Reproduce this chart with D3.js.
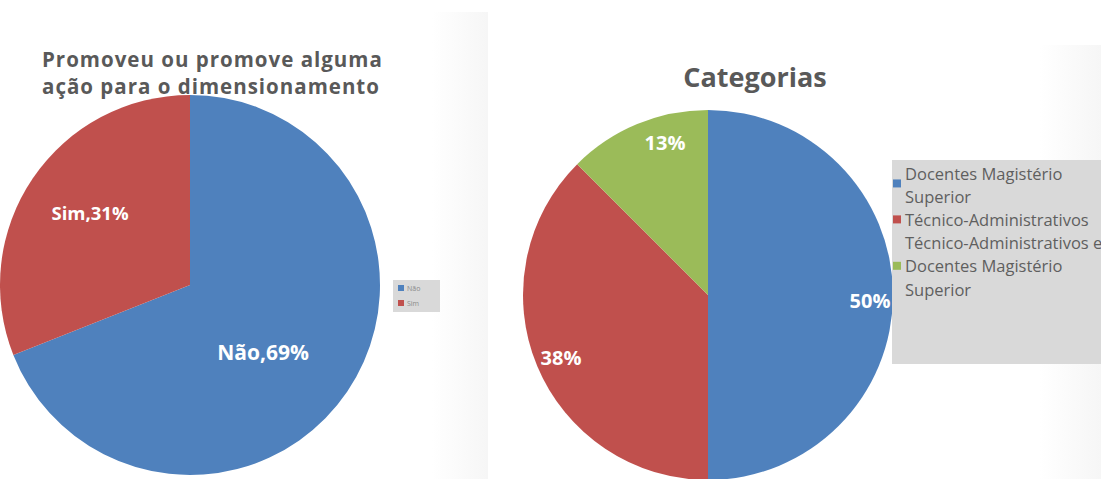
<!DOCTYPE html>
<html>
<head>
<meta charset="utf-8">
<script src="https://cdn.jsdelivr.net/npm/d3@7"></script>
<style>
  html, body { margin: 0; padding: 0; background: #fff; }
  svg { display: block; }
</style>
</head>
<body>
<svg id="chart" width="1101" height="479"></svg>
<script>
// ---- Data ----
const leftTitle = ["Promoveu ou promove alguma", "ação para o dimensionamento"];
const leftCategories = ["Não", "Sim"];
const leftValues = [69, 31];

const rightTitle = "Categorias";
const rightCategories = ["Docentes Magistério Superior", "Técnico-Administrativos", "Técnico-Administrativos e Docentes Magistério Superior"];
const rightValues = [50, 37.5, 12.5];
const rightLegendLines = [["Docentes Magistério", "Superior"], ["Técnico-Administrativos"], ["Técnico-Administrativos e", "Docentes Magistério", "Superior"]];

const colors = ["#4F81BD", "#C0504D", "#9BBB59"];
const font = "'Open Sans', 'DejaVu Sans', sans-serif";
const titleColor = "#595959";

const svg = d3.select("#chart");
const defs = svg.append("defs");

// subtle panel shadows
const g1 = defs.append("linearGradient").attr("id", "shadeL").attr("x1", 0).attr("x2", 1);
g1.append("stop").attr("offset", 0).attr("stop-color", "#fff");
g1.append("stop").attr("offset", 1).attr("stop-color", "#f6f6f6");
const g2 = defs.append("linearGradient").attr("id", "shadeR").attr("x1", 0).attr("x2", 1);
g2.append("stop").attr("offset", 0).attr("stop-color", "#fff");
g2.append("stop").attr("offset", 1).attr("stop-color", "#f6f6f6");
svg.append("rect").attr("x", 432).attr("y", 12).attr("width", 56).attr("height", 467).attr("fill", "url(#shadeL)");
svg.append("rect").attr("x", 1040).attr("y", 45).attr("width", 61).attr("height", 434).attr("fill", "url(#shadeR)");

const pie = d3.pie().sort(null).value(d => d);

// ---- Left chart ----
{
  const cx = 190, cy = 285, r = 190;
  const g = svg.append("g").attr("transform", `translate(${cx},${cy})`);
  const arcs = pie(leftValues);
  const arc = d3.arc().innerRadius(0).outerRadius(r);
  g.selectAll("path").data(arcs).join("path")
    .attr("d", arc).attr("fill", (d, i) => colors[i]);

  const labelPos = [[73, 67], [-100, -73]];
  const labelSize = [21, 18.5];
  g.selectAll("text.lbl").data(arcs).join("text")
    .attr("class", "lbl")
    .attr("x", (d, i) => labelPos[i][0]).attr("y", (d, i) => labelPos[i][1])
    .attr("text-anchor", "middle").attr("dominant-baseline", "central")
    .attr("font-family", font).attr("font-weight", 700).attr("font-size", (d, i) => labelSize[i])
    .attr("fill", "#fff")
    .text((d, i) => `${leftCategories[i]},${leftValues[i]}%`);

  svg.selectAll("text.ltitle").data(leftTitle).join("text")
    .attr("class", "ltitle")
    .attr("x", 42).attr("y", (d, i) => 67 + i * 27)
    .attr("font-family", font).attr("font-weight", 700).attr("font-size", 20.5)
    .attr("letter-spacing", 1)
    .attr("fill", titleColor).text(d => d);

  // legend
  const lg = svg.append("g").attr("transform", "translate(393,280)");
  lg.append("rect").attr("width", 47).attr("height", 32).attr("fill", "#d9d9d9");
  leftCategories.forEach((c, i) => {
    lg.append("rect").attr("x", 5).attr("y", 5 + i * 15).attr("width", 6).attr("height", 6).attr("fill", colors[i]);
    lg.append("text").attr("x", 14).attr("y", 8 + i * 15).attr("dominant-baseline", "central")
      .attr("font-family", font).attr("font-size", 7).attr("fill", "#8a8a8a").text(c);
  });
}

// ---- Right chart ----
{
  const cx = 708, cy = 295, r = 185;
  const g = svg.append("g").attr("transform", `translate(${cx},${cy})`);
  const arcs = pie(rightValues);
  const arc = d3.arc().innerRadius(0).outerRadius(r);
  g.selectAll("path").data(arcs).join("path")
    .attr("d", arc).attr("fill", (d, i) => colors[i]);

  const labelPos = [[162, 5], [-147, 62], [-43, -153]];
  g.selectAll("text.lbl").data(arcs).join("text")
    .attr("class", "lbl")
    .attr("x", (d, i) => labelPos[i][0]).attr("y", (d, i) => labelPos[i][1])
    .attr("text-anchor", "middle").attr("dominant-baseline", "central")
    .attr("font-family", font).attr("font-weight", 700).attr("font-size", 20)
    .attr("fill", "#fff")
    .text((d, i) => `${Math.round(rightValues[i])}%`);

  svg.append("text").attr("x", 755).attr("y", 87).attr("text-anchor", "middle")
    .attr("font-family", font).attr("font-weight", 700).attr("font-size", 27)
    .attr("fill", titleColor).text(rightTitle);

  // legend
  const lg = svg.append("g").attr("transform", "translate(892,160)");
  lg.append("rect").attr("width", 220).attr("height", 204).attr("fill", "#d9d9d9");
  const lineH = 23.2;
  const squareLine = [0.45, 0, 1];
  let line = 0;
  rightLegendLines.forEach((lines, i) => {
    const sy = 13 + (line + squareLine[i]) * lineH;
    lg.append("rect").attr("x", 1).attr("y", sy - 4).attr("width", 8).attr("height", 8).attr("fill", colors[i]);
    lines.forEach((t, j) => {
      lg.append("text").attr("x", 13).attr("y", 13 + (line + j) * lineH)
        .attr("dominant-baseline", "central")
        .attr("font-family", font).attr("font-size", 16.5).attr("fill", "#5f5f5f").text(t);
    });
    line += lines.length;
  });
}
</script>
</body>
</html>
